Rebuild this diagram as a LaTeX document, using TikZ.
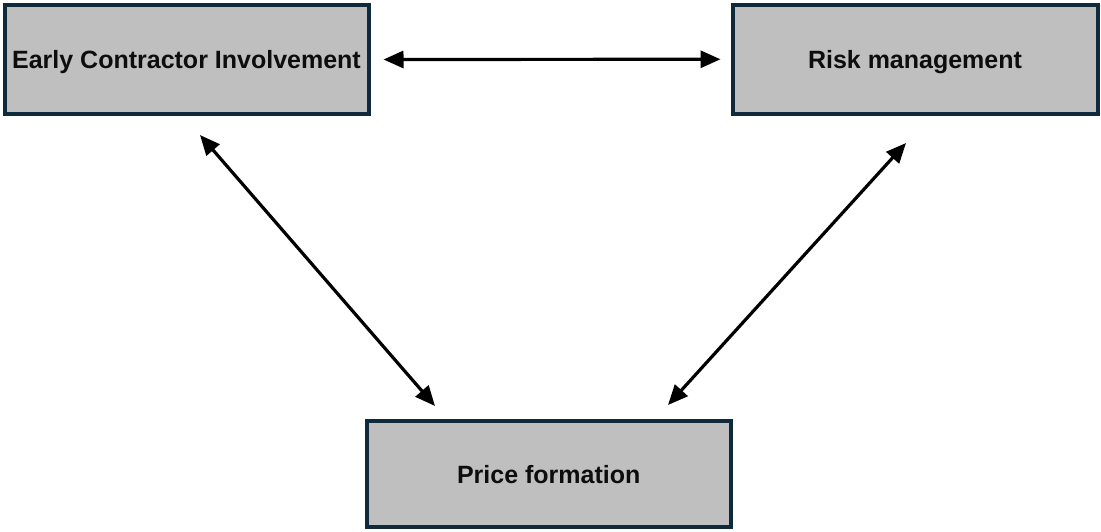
\documentclass[tikz,border=0pt]{standalone}
\usepackage{fontspec}
\setmainfont{Liberation Sans}
\usetikzlibrary{arrows.meta}
\definecolor{boxfill}{HTML}{BFBFBF}
\definecolor{boxline}{HTML}{0E2A3B}
\definecolor{ink}{HTML}{0D0D0D}
\begin{document}
\begin{tikzpicture}[x=1pt,y=-1pt,
  block/.style={draw=boxline,fill=boxfill,line width=4pt,inner sep=0pt,
    text=ink,text height=18pt,text depth=0pt,
    font=\fontsize{25}{29}\selectfont\bfseries},
  link/.style={line width=3.2pt,draw=black,{Triangle[length=20pt,width=17pt]}-{Triangle[length=20pt,width=17pt]}}]
  \useasboundingbox (0,0) rectangle (1101,531);
  % the three boxes
  \node[block,minimum width=364pt,minimum height=108.5pt] (eci) at (186.5,59.5) {Early Contractor Involvement};
  \node[block,minimum width=365pt,minimum height=109.5pt] (risk) at (915,59.25) {Risk management};
  \node[block,minimum width=363.5pt,minimum height=106pt] (price) at (548.75,474) {Price formation};
  % free ends of the slanted links
  \coordinate (eciLow) at (200,135);
  \coordinate (priceL) at (435,406);
  \coordinate (priceR) at (668,405);
  \coordinate (riskLow) at (906,143);
  % links between the boxes
  \draw[link,shorten <=13pt,shorten >=10pt] (eci.east) -- (risk.west);
  \draw[link] (eciLow) -- (priceL);
  \draw[link] (priceR) -- (riskLow);
\end{tikzpicture}
\end{document}
